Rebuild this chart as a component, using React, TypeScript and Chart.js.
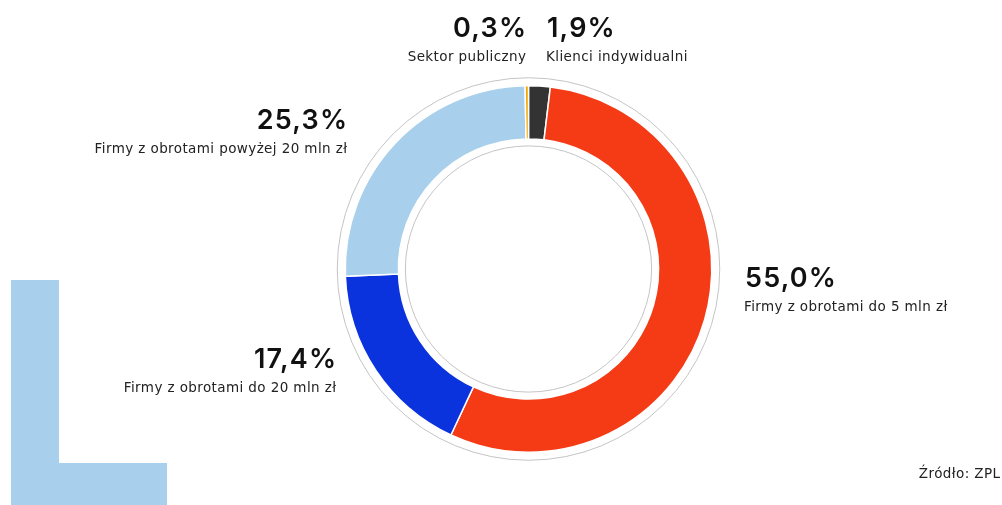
import React, { useEffect, useRef } from "react";
import { Chart, registerables } from "chart.js";

Chart.register(...registerables);

const categories = [
  "Klienci indywidualni",
  "Firmy z obrotami do 5 mln zł",
  "Firmy z obrotami do 20 mln zł",
  "Firmy z obrotami powyżej 20 mln zł",
  "Sektor publiczny",
];
const shares = [1.9, 55.0, 17.4, 25.3, 0.3];
const percentLabels = ["1,9%", "55,0%", "17,4%", "25,3%", "0,3%"];
const colors = ["#333333", "#f53a16", "#0a33dd", "#a8cfeb", "#f5a400"];
const sourceText = "Źródło: ZPL";

// label placement (style only)
const labelPlacement = [
  { x: 547, y: 37, align: "left" },
  { x: 745, y: 287, align: "left" },
  { x: 336, y: 368, align: "right" },
  { x: 347, y: 129, align: "right" },
  { x: 526, y: 37, align: "right" },
];

const BIG_FONT = "Inter, 'Open Sans', sans-serif";
const SMALL_FONT = "'DejaVu Sans', sans-serif";
const BIG_SPACING = 1.2;
const SMALL_SPACING = 0.4;

const decorPlugin = {
  id: "decor",
  beforeDatasetsDraw(chart: any) {
    const meta = chart.getDatasetMeta(0);
    const arc = meta.data[0];
    if (!arc) return;
    const { x, y, outerRadius, innerRadius } = arc.getProps(
      ["x", "y", "outerRadius", "innerRadius"],
      true
    );
    const ctx = chart.ctx;
    ctx.save();
    ctx.strokeStyle = "#c4c4c4";
    ctx.lineWidth = 1;
    ctx.beginPath();
    ctx.arc(x, y, outerRadius + 8, 0, Math.PI * 2);
    ctx.stroke();
    ctx.beginPath();
    ctx.arc(x, y, innerRadius - 7, 0, Math.PI * 2);
    ctx.stroke();
    ctx.restore();
  },
  afterDraw(chart: any) {
    const ctx = chart.ctx;
    ctx.save();
    ctx.textBaseline = "alphabetic";
    categories.forEach((cat, i) => {
      const p = labelPlacement[i];
      const right = p.align === "right";
      ctx.textAlign = p.align;
      ctx.font = `600 27px ${BIG_FONT}`;
      ctx.fillStyle = "#111111";
      (ctx as any).letterSpacing = `${BIG_SPACING}px`;
      ctx.fillText(percentLabels[i], right ? p.x + BIG_SPACING : p.x, p.y);
      (ctx as any).letterSpacing = `${SMALL_SPACING}px`;
      ctx.font = `400 13.5px ${SMALL_FONT}`;
      ctx.fillStyle = "#222222";
      ctx.fillText(cat, right ? p.x + SMALL_SPACING : p.x - 1, p.y + 24);
    });
    ctx.textAlign = "right";
    (ctx as any).letterSpacing = `${SMALL_SPACING}px`;
    ctx.font = `400 13.5px ${SMALL_FONT}`;
    ctx.fillStyle = "#222222";
    ctx.fillText(sourceText, 1000 + SMALL_SPACING, 478);
    ctx.restore();
  },
};

export default function App() {
  const ref = useRef<HTMLCanvasElement>(null);
  useEffect(() => {
    if (!ref.current) return;
    const chart = new Chart(ref.current, {
      type: "doughnut",
      data: {
        labels: categories,
        datasets: [
          {
            data: shares,
            backgroundColor: colors,
            borderColor: "#ffffff",
            borderWidth: 1.5,
          },
        ],
      },
      options: {
        animation: false,
        responsive: false,
        maintainAspectRatio: false,
        cutout: "71%",
        rotation: 0,
        layout: { padding: { top: 85, bottom: 52, left: 344, right: 289 } },
        plugins: {
          legend: { display: false },
          tooltip: { enabled: false },
        },
      },
      plugins: [decorPlugin],
    });
    return () => chart.destroy();
  }, []);
  return (
    <div
      style={{
        position: "fixed",
        left: 0,
        top: 0,
        width: 1002,
        height: 505,
        background: "#ffffff",
        overflow: "hidden",
      }}
    >
      <div
        style={{
          position: "absolute",
          left: 11,
          top: 280,
          width: 48,
          height: 225,
          background: "#a8cfeb",
        }}
      />
      <div
        style={{
          position: "absolute",
          left: 11,
          top: 463,
          width: 156,
          height: 42,
          background: "#a8cfeb",
        }}
      />
      <canvas
        ref={ref}
        width={1002}
        height={505}
        style={{ position: "absolute", left: 0, top: 0, width: 1002, height: 505 }}
      />
    </div>
  );
}
